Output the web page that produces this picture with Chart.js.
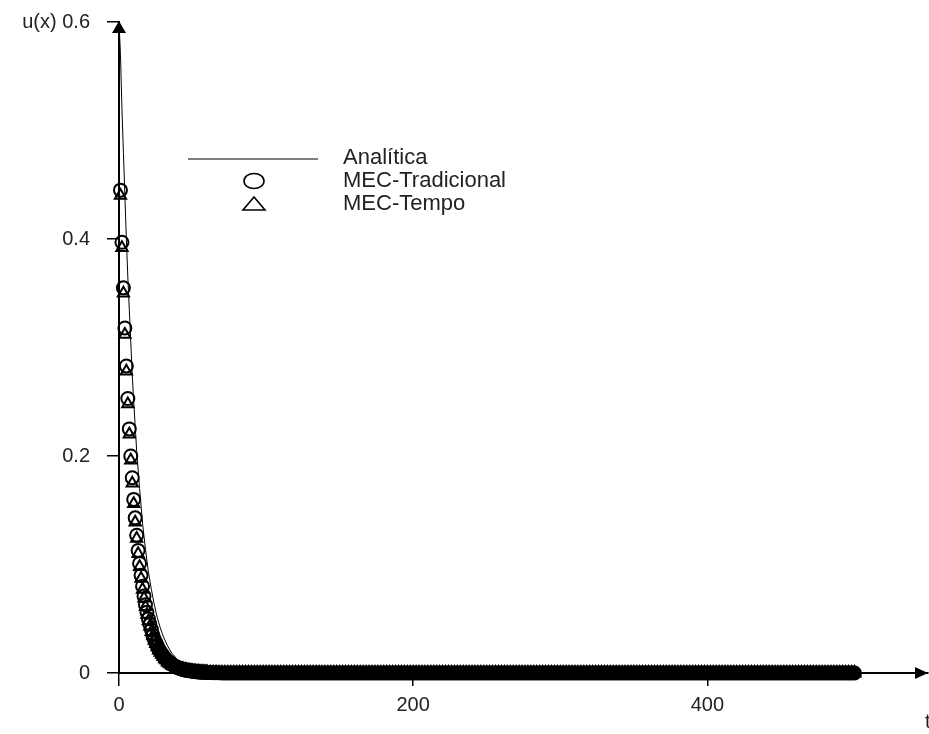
<!DOCTYPE html>
<html><head><meta charset="utf-8">
<script src="https://cdn.jsdelivr.net/npm/chart.js@4.4.0/dist/chart.umd.min.js"></script>
<style>html,body{margin:0;padding:0;background:#fff;} #c{display:block;}</style>
</head><body>
<canvas id="c" width="929" height="734"></canvas>
<script>
// ---- data ----
const positions = [
1,2,3,4,5,6,7,8,9,10,11,12,13,14,15,16,17,18,19,20,
21,22,23,24,25,26,27,28,29,30,31,32,33,34,35,36,37,38,39,40,
41,42,43,44,45,46,47,48,49,50,51,52,53,54,55,56,57,58,59,60,
62,64,66,68,70,72,74,76,78,80,82,84,86,88,90,92,94,96,98,100,
102,104,106,108,110,112,114,116,118,120,122,124,126,128,130,132,134,136,138,140,
142,144,146,148,150,152,154,156,158,160,162,164,166,168,170,172,174,176,178,180,
182,184,186,188,190,192,194,196,198,200,202,204,206,208,210,212,214,216,218,220,
222,224,226,228,230,232,234,236,238,240,242,244,246,248,250,252,254,256,258,260,
262,264,266,268,270,272,274,276,278,280,282,284,286,288,290,292,294,296,298,300,
302,304,306,308,310,312,314,316,318,320,322,324,326,328,330,332,334,336,338,340,
342,344,346,348,350,352,354,356,358,360,362,364,366,368,370,372,374,376,378,380,
382,384,386,388,390,392,394,396,398,400,402,404,406,408,410,412,414,416,418,420,
422,424,426,428,430,432,434,436,438,440,442,444,446,448,450,452,454,456,458,460,
462,464,466,468,470,472,474,476,478,480,482,484,486,488,490,492,494,496,498,500
];
const tradicional = [
0.445,0.397,0.355,0.318,0.283,0.253,0.225,0.200,0.180,0.160,0.143,0.127,0.113,0.101,0.090,0.080,0.071,0.063,0.056,0.050,
0.045,0.040,0.035,0.031,0.028,0.025,0.022,0.020,0.018,0.016,0.014,0.0125,0.011,0.010,0.009,0.008,0.007,0.0063,0.0056,0.005,
0.0044,0.004,0.0035,0.0031,0.0028,0.0025,0.0022,0.002,0.0018,0.0016,0.0014,0.0012,0.0011,0.001,0.0009,0.0008,0.0007,0.0006,0.0006,0.0005,
0.0004,0.0003,0.0002,0.0002,0.0001,0,0,0,0,0,0,0,0,0,0,0,0,0,0,0,
0,0,0,0,0,0,0,0,0,0,0,0,0,0,0,0,0,0,0,0,
0,0,0,0,0,0,0,0,0,0,0,0,0,0,0,0,0,0,0,0,
0,0,0,0,0,0,0,0,0,0,0,0,0,0,0,0,0,0,0,0,
0,0,0,0,0,0,0,0,0,0,0,0,0,0,0,0,0,0,0,0,
0,0,0,0,0,0,0,0,0,0,0,0,0,0,0,0,0,0,0,0,
0,0,0,0,0,0,0,0,0,0,0,0,0,0,0,0,0,0,0,0,
0,0,0,0,0,0,0,0,0,0,0,0,0,0,0,0,0,0,0,0,
0,0,0,0,0,0,0,0,0,0,0,0,0,0,0,0,0,0,0,0,
0,0,0,0,0,0,0,0,0,0,0,0,0,0,0,0,0,0,0,0,
0,0,0,0,0,0,0,0,0,0,0,0,0,0,0,0,0,0,0,0
];
const tempo = [
0.440,0.392,0.350,0.312,0.278,0.248,0.220,0.196,0.175,0.156,0.139,0.124,0.110,0.098,0.087,0.077,0.069,0.061,0.054,0.048,
0.043,0.038,0.034,0.030,0.027,0.024,0.021,0.019,0.017,0.015,0.013,0.012,0.010,0.009,0.008,0.007,0.0065,0.0058,0.0052,0.0046,
0.0041,0.0036,0.0032,0.0029,0.0026,0.0023,0.002,0.0018,0.0016,0.0014,0.0013,0.0011,0.001,0.0009,0.0008,0.0007,0.0006,0.0005,0.0005,0.0004,
0.0003,0.0003,0.0002,0.0001,0.0001,0,0,0,0,0,0,0,0,0,0,0,0,0,0,0,
0,0,0,0,0,0,0,0,0,0,0,0,0,0,0,0,0,0,0,0,
0,0,0,0,0,0,0,0,0,0,0,0,0,0,0,0,0,0,0,0,
0,0,0,0,0,0,0,0,0,0,0,0,0,0,0,0,0,0,0,0,
0,0,0,0,0,0,0,0,0,0,0,0,0,0,0,0,0,0,0,0,
0,0,0,0,0,0,0,0,0,0,0,0,0,0,0,0,0,0,0,0,
0,0,0,0,0,0,0,0,0,0,0,0,0,0,0,0,0,0,0,0,
0,0,0,0,0,0,0,0,0,0,0,0,0,0,0,0,0,0,0,0,
0,0,0,0,0,0,0,0,0,0,0,0,0,0,0,0,0,0,0,0,
0,0,0,0,0,0,0,0,0,0,0,0,0,0,0,0,0,0,0,0,
0,0,0,0,0,0,0,0,0,0,0,0,0,0,0,0,0,0,0,0
];
const analyticX = [0,1,2,3,4,5,6,7,8,9,10,12,14,16,18,20,22,24,26,28,30,33,36,40,45,50,55,60,70,80,500];
const analyticU = [0.6,0.57,0.52,0.48,0.44,0.40,0.365,0.335,0.305,0.275,0.25,0.205,0.17,0.138,0.114,0.093,0.077,0.063,0.051,0.042,0.034,0.025,0.018,0.012,0.007,0.004,0.002,0.001,0.0003,0,0];
const xTicks = [0,200,400];
const yTicks = [0,0.2,0.4,0.6];
const yTitle = 'u(x)';
const xTitle = 't';
const seriesNames = ['Analítica','MEC-Tradicional','MEC-Tempo'];

// ---- chart ----
const FONT = '"Liberation Sans", Arial, sans-serif';
const INK = '#222';

const decor = {
  id: 'decor',
  afterDraw(chart) {
    const {ctx, chartArea: a} = chart;
    ctx.save();
    ctx.fillStyle = '#000';
    // y-axis arrow
    ctx.beginPath();
    ctx.moveTo(a.left, a.top - 1);
    ctx.lineTo(a.left - 7, a.top + 11);
    ctx.lineTo(a.left + 7, a.top + 11);
    ctx.closePath(); ctx.fill();
    // x-axis arrow
    ctx.beginPath();
    ctx.moveTo(a.right, a.bottom);
    ctx.lineTo(a.right - 13, a.bottom - 6);
    ctx.lineTo(a.right - 13, a.bottom + 6);
    ctx.closePath(); ctx.fill();
    // x-axis title (bottom right)
    ctx.font = '20px ' + FONT;
    ctx.fillStyle = INK;
    ctx.textBaseline = 'middle';
    ctx.textAlign = 'left';
    ctx.fillText(xTitle, a.right - 3, 722);
    // legend
    ctx.strokeStyle = '#000';
    ctx.lineWidth = 1.2;
    ctx.beginPath(); ctx.moveTo(188, 159); ctx.lineTo(318, 159); ctx.stroke();
    ctx.lineWidth = 1.6;
    ctx.beginPath(); ctx.ellipse(254, 181, 10, 7.5, 0, 0, Math.PI * 2); ctx.stroke();
    ctx.beginPath(); ctx.moveTo(254, 197); ctx.lineTo(243, 210); ctx.lineTo(265, 210); ctx.closePath(); ctx.stroke();
    ctx.font = '22px ' + FONT;
    ctx.fillStyle = INK;
    ctx.fillText(seriesNames[0], 343, 158);
    ctx.fillText(seriesNames[1], 343, 181);
    ctx.fillText(seriesNames[2], 343, 204);
    ctx.restore();
  }
};

const denseStroke = c => (c.raw && c.raw.x > 42 ? 3 : 2);
const denseRadius = c => (c.raw && c.raw.x > 42 ? 6 : 6.5);

new Chart(document.getElementById('c'), {
  type: 'scatter',
  data: {
    datasets: [
      {
        label: seriesNames[0],
        data: analyticX.map((x, i) => ({x, y: analyticU[i]})),
        showLine: true, borderColor: '#000', borderWidth: 1, pointRadius: 0, tension: 0, clip: false
      },
      {
        label: seriesNames[1],
        data: positions.map((x, i) => ({x, y: tradicional[i]})),
        pointStyle: 'circle', pointRadius: denseRadius, borderColor: '#000', borderWidth: denseStroke,
        backgroundColor: 'rgba(0,0,0,0)', clip: false
      },
      {
        label: seriesNames[2],
        data: positions.map((x, i) => ({x, y: tempo[i]})),
        pointStyle: 'triangle', pointRadius: denseRadius, borderColor: '#000', borderWidth: denseStroke,
        backgroundColor: 'rgba(0,0,0,0)', clip: false
      }
    ]
  },
  options: {
    responsive: false,
    animation: false,
    events: [],
    layout: { autoPadding: false, padding: { top: 22, right: 1, left: 0, bottom: 0 } },
    plugins: { legend: { display: false }, tooltip: { enabled: false } },
    scales: {
      x: {
        type: 'linear', min: 0, max: 550,
        afterBuildTicks: s => { s.ticks = xTicks.map(v => ({value: v})); },
        afterFit: s => { s.height = 61; s.paddingLeft = 0; s.paddingRight = 0; },
        grid: { drawOnChartArea: false, drawTicks: true, tickLength: 13, color: '#000', lineWidth: 1.5 },
        border: { display: true, color: '#000', width: 2 },
        ticks: { font: { family: FONT, size: 20 }, color: INK, padding: 7, maxRotation: 0,
                 callback: v => String(v) }
      },
      y: {
        type: 'linear', min: 0, max: 0.6,
        afterBuildTicks: s => { s.ticks = yTicks.map(v => ({value: v})); },
        afterFit: s => { s.width = 119; s.paddingTop = 0; s.paddingBottom = 0; },
        grid: { drawOnChartArea: false, drawTicks: true, tickLength: 12, color: '#000', lineWidth: 1.5 },
        border: { display: true, color: '#000', width: 2 },
        ticks: { font: { family: FONT, size: 20 }, color: INK, padding: 17,
                 callback: v => (Math.abs(v - 0.6) < 1e-9 ? yTitle + ' ' : '') + (Math.round(v * 10) / 10) }
      }
    }
  },
  plugins: [decor]
});
</script>
</body></html>
